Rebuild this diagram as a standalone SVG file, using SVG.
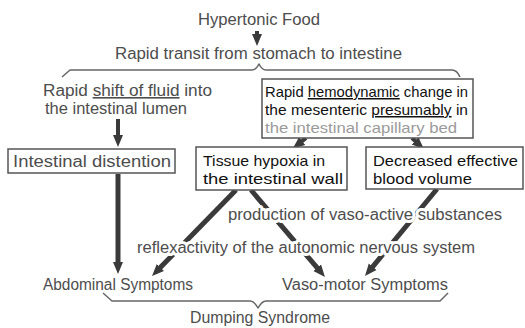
<svg xmlns="http://www.w3.org/2000/svg" width="525" height="328" viewBox="0 0 525 328">
<style>
  .t{font-family:"Liberation Sans",Arial,sans-serif;font-size:16px;fill:#4d4d4d}
  .bt{font-family:"Liberation Sans",Arial,sans-serif;font-size:15px;fill:#111}
  .fd{fill:#9a9a9a}
  .halo{stroke:#fff;stroke-width:6px;stroke-linejoin:round;paint-order:stroke}
  .box{fill:#fff;stroke:#555;stroke-width:1.5}
  .brace{fill:none;stroke:#666;stroke-width:1.5;stroke-linejoin:round}
  .ar{stroke:#3a3a3a;stroke-width:5;fill:none;marker-end:url(#ah)}
  .ars{stroke:#3a3a3a;stroke-width:4;fill:none;marker-end:url(#ah)}
</style>
<defs>
  <marker id="ah" markerUnits="userSpaceOnUse" markerWidth="12" markerHeight="12" viewBox="0 0 12 12" refX="4" refY="6" orient="auto">
    <path d="M0,1 L12,6 L0,11 z" fill="#3a3a3a"/>
  </marker>
</defs>
<rect width="525" height="328" fill="#fff"/>

<g id="braces">
  <path class="brace" d="M62,77 L70,70 L252,70 Q256,70 259,64 Q262,70 266,70 L452,70 Q457,70 460,77"/>
  <path class="brace" d="M103,293 L112,301 L250,301 Q254,301 258,308 Q262,301 266,301 L440,301 L448,293"/>
</g>

<g id="connectors">
  <line class="ars" x1="257" y1="31" x2="257" y2="38"/>
  <line class="ars" x1="118" y1="119" x2="118" y2="139"/>
  <line class="ars" x1="306" y1="138" x2="299" y2="143.6"/>
  <line class="ars" x1="412" y1="138" x2="418" y2="143.6"/>
  <line class="ar" x1="118" y1="174" x2="118" y2="266"/>
  <line class="ar" x1="236" y1="190" x2="157.6" y2="270.3"/>
  <line class="ar" x1="251" y1="190" x2="319.8" y2="270.9"/>
  <line class="ar" x1="437" y1="189" x2="370.1" y2="269.8"/>
</g>

<g id="hypertonic">
  <text class="t" x="198" y="25" textLength="122" lengthAdjust="spacingAndGlyphs">Hypertonic Food</text>
</g>
<g id="transit">
  <text class="t" x="115" y="59" textLength="287" lengthAdjust="spacingAndGlyphs">Rapid transit from stomach to intestine</text>
</g>
<g id="shift">
  <text class="t" x="43" y="96" textLength="169" lengthAdjust="spacingAndGlyphs">Rapid <tspan text-decoration="underline">shift of fluid</tspan> into</text>
  <text class="t" x="45" y="114" textLength="142" lengthAdjust="spacingAndGlyphs">the intestinal lumen</text>
</g>
<g id="hemodynamic">
  <rect class="box" x="262" y="79" width="211" height="59"/>
  <text class="bt" x="265" y="97" textLength="203" lengthAdjust="spacingAndGlyphs">Rapid <tspan text-decoration="underline">hemodynamic</tspan> change in</text>
  <text class="bt" x="265" y="115" textLength="203" lengthAdjust="spacingAndGlyphs">the mesenteric <tspan text-decoration="underline">presumably</tspan> in</text>
  <text class="bt fd" x="265" y="133" textLength="192" lengthAdjust="spacingAndGlyphs">the intestinal capillary bed</text>
</g>
<g id="distention">
  <rect class="box" x="8" y="149" width="167" height="24"/>
  <text class="t" x="13" y="167" textLength="158" lengthAdjust="spacingAndGlyphs">Intestinal distention</text>
</g>
<g id="hypoxia">
  <rect class="box" x="196" y="147" width="151" height="43"/>
  <text class="bt" x="203" y="166" textLength="122" lengthAdjust="spacingAndGlyphs">Tissue hypoxia in</text>
  <text class="bt" x="203" y="184" textLength="140" lengthAdjust="spacingAndGlyphs">the intestinal wall</text>
</g>
<g id="bloodvolume">
  <rect class="box" x="366" y="147" width="157" height="42"/>
  <text class="bt" x="373" y="166" textLength="145" lengthAdjust="spacingAndGlyphs">Decreased effective</text>
  <text class="bt" x="373" y="184" textLength="99" lengthAdjust="spacingAndGlyphs">blood volume</text>
</g>
<g id="production">
  <text class="t halo" x="228" y="220" textLength="274" lengthAdjust="spacingAndGlyphs">production of vaso-active substances</text>
</g>
<g id="reflex">
  <text class="t halo" x="137" y="253" textLength="338" lengthAdjust="spacingAndGlyphs">reflexactivity of the autonomic nervous system</text>
</g>
<g id="abdominal">
  <text class="t" x="43" y="290" textLength="150" lengthAdjust="spacingAndGlyphs">Abdominal Symptoms</text>
</g>
<g id="vasomotor">
  <text class="t" x="282" y="290" textLength="166" lengthAdjust="spacingAndGlyphs">Vaso-motor Symptoms</text>
</g>
<g id="dumping">
  <text class="t" x="190" y="323" textLength="140" lengthAdjust="spacingAndGlyphs">Dumping Syndrome</text>
</g>
</svg>
